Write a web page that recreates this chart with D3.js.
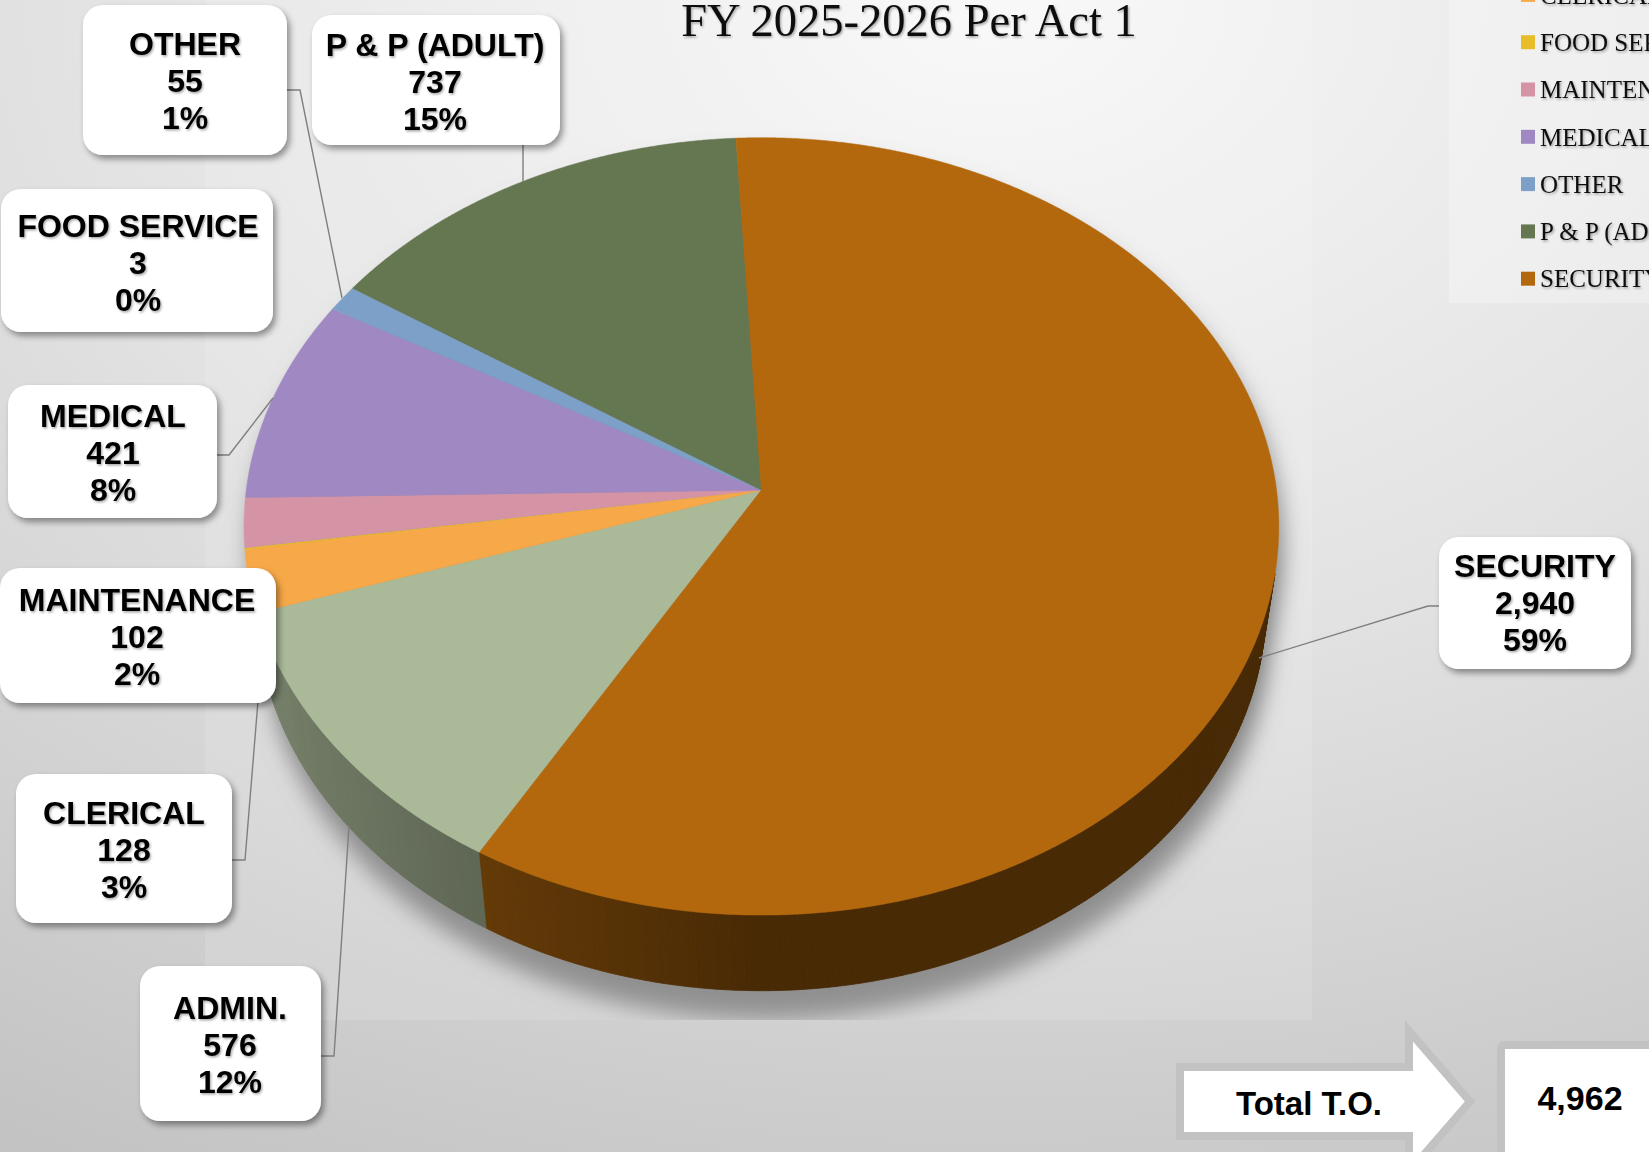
<!DOCTYPE html>
<html><head><meta charset="utf-8">
<script src="https://cdn.jsdelivr.net/npm/d3@7"></script>
<style>html,body{margin:0;padding:0;overflow:hidden;background:#ddd}</style>
</head><body>
<svg id="c" width="1649" height="1152"></svg>
<script>
// ---------- data ----------
const categories = ["ADMIN.","CLERICAL","FOOD SERVICE","MAINTENANCE","MEDICAL","OTHER","P & P (ADULT)","SECURITY"];
const values = [576,128,3,102,421,55,737,2940];
const colors = ["#aab998","#f7a848","#e8bd2a","#d594a6","#a088c2","#7da0c8","#657750","#b4680d"];
const titleText = "FY 2025-2026 Per Act 1";
const totalLabel = "Total T.O.";

// ---------- layout (not data) ----------
const W = 1649, H = 1152;
const firstSliceDeg = 210.2;
const CX = 761.4, CY = 490.1, F = 3661, D = 7.107, SE = 0.748, CE = 0.664, TH = 0.2368;
const labelLayout = {
  "ADMIN.":        {box:[140,966,181,155], tx:230, by:1019, leader:[[321,1056],[334,1056],[349,826]]},
  "CLERICAL":      {box:[16,774,216,149],  tx:124, by:824,  leader:[[232,860],[245,860],[263,640]]},
  "FOOD SERVICE":  {box:[1,189,272,143],   tx:138, by:237,  leader:null},
  "MAINTENANCE":   {box:[0,568,276,135],   tx:137, by:611,  leader:null},
  "MEDICAL":       {box:[8,385,209,133],   tx:113, by:427,  leader:[[217,455],[229,455],[273,398]]},
  "OTHER":         {box:[83,5,204,150],    tx:185, by:55,   leader:[[287,90],[300,90],[342,298]]},
  "P & P (ADULT)": {box:[312,15,248,130],  tx:435, by:56,   leader:[[523,145],[523,182]]},
  "SECURITY":      {box:[1439,537,192,132],tx:1535,by:577,  leader:[[1439,606],[1428,606],[1259,658]]}
};

const svg = d3.select("#c");
const defs = svg.append("defs");

// background gradient
const bg = defs.append("radialGradient").attr("id","bg").attr("cx","0.6").attr("cy","0").attr("r","1.15");
bg.append("stop").attr("offset","0").attr("stop-color","#f8f8f8");
bg.append("stop").attr("offset","0.5").attr("stop-color","#e2e2e2");
bg.append("stop").attr("offset","1").attr("stop-color","#c3c3c3");
svg.append("rect").attr("width",W).attr("height",H).attr("fill","url(#bg)");

// filters
const fBox = defs.append("filter").attr("id","boxsh").attr("x","-20%").attr("y","-20%").attr("width","140%").attr("height","140%");
fBox.append("feDropShadow").attr("dx",3).attr("dy",4).attr("stdDeviation",3).attr("flood-color","#000").attr("flood-opacity",0.4);
const fTxt = defs.append("filter").attr("id","txtsh").attr("x","-10%").attr("y","-20%").attr("width","120%").attr("height","150%");
fTxt.append("feDropShadow").attr("dx",1.2).attr("dy",1.5).attr("stdDeviation",1).attr("flood-color","#000").attr("flood-opacity",0.35);
const fBlur = defs.append("filter").attr("id","blur").attr("x","-20%").attr("y","-20%").attr("width","140%").attr("height","140%");
fBlur.append("feGaussianBlur").attr("stdDeviation",11);
defs.append("clipPath").attr("id","plotclip").append("rect").attr("x",205).attr("y",0).attr("width",1107).attr("height",1020);

// plot area subtle highlight
svg.append("rect").attr("x",205).attr("y",0).attr("width",1107).attr("height",1020).attr("fill","#fff").attr("opacity",0.12);

// projection of 3D pie
function proj(phi, r, hh) {
  const x3 = r*Math.sin(phi), z3 = r*Math.cos(phi);
  const up = z3*SE - hh*CE;
  const depth = D + z3*CE + hh*SE;
  return [CX + F*x3/depth, CY - F*up/depth];
}
function rim(a0, a1, hh) {
  const n = Math.max(2, Math.ceil(Math.abs(a1-a0)/0.004));
  return d3.range(n+1).map(i => proj(a0 + (a1-a0)*i/n, 1, hh));
}
const line = d3.line();

const start = firstSliceDeg*Math.PI/180;
const pie = d3.pie().sort(null).value(d=>d).startAngle(start).endAngle(start+2*Math.PI);
const arcs = pie(values);

// shadow
const shG = svg.append("g").attr("clip-path","url(#plotclip)");
shG.append("g").attr("filter","url(#blur)").attr("transform","translate(5,18)")
  .selectAll("path").data([0, TH*0.6, TH*1.15]).join("path")
  .attr("d", hh => line(rim(0, 2*Math.PI, hh)) + "Z")
  .attr("fill","#7a7a7a").attr("opacity",0.75);

// side walls
const phiS = Math.acos(-1/(D*CE));
const visRanges = [[phiS, 2*Math.PI-phiS],[phiS+2*Math.PI, 4*Math.PI-phiS]];
const sideG = svg.append("g");
const step = Math.PI/360;
arcs.forEach((a,i) => {
  visRanges.forEach(([v0,v1]) => {
    const s0 = Math.max(a.startAngle, v0), s1 = Math.min(a.endAngle, v1);
    if (s1 <= s0) return;
    const n = Math.max(1, Math.ceil((s1-s0)/step));
    for (let k=0;k<n;k++){
      const t0 = s0 + (s1-s0)*k/n, t1 = s0 + (s1-s0)*(k+1)/n, tm=(t0+t1)/2;
      const f = 0.40 + 0.31*Math.max(0, -Math.sin(tm));
      const c = d3.rgb(colors[i]);
      const col = d3.rgb(c.r*f, c.g*f, c.b*f).formatHex();
      const pts = [proj(t0,1,0),proj(t1,1,0),proj(t1,1,TH),proj(t0,1,TH)];
      sideG.append("path").attr("d", line(pts)+"Z").attr("fill",col).attr("stroke",col).attr("stroke-width",0.8);
    }
  });
});

// top faces
svg.append("g").selectAll("path").data(arcs).join("path")
  .attr("d", a => line([proj(0,0,0)].concat(rim(a.startAngle, a.endAngle, 0))) + "Z")
  .attr("fill", (a,i) => colors[i])
  .attr("stroke", (a,i) => colors[i]).attr("stroke-width",0.5);

// leader lines
const total = d3.sum(values);
const pct = d3.format(".0%"), num = d3.format(",");
const lg = svg.append("g");
categories.forEach(c => {
  const L = labelLayout[c];
  if (L.leader) lg.append("path").attr("d", line(L.leader)).attr("fill","none").attr("stroke","#7f7f7f").attr("stroke-width",1.4);
});

// data labels
const labG = svg.append("g");
categories.forEach((c,i) => {
  const L = labelLayout[c];
  const g = labG.append("g");
  g.append("rect").attr("x",L.box[0]).attr("y",L.box[1]).attr("width",L.box[2]).attr("height",L.box[3])
    .attr("rx",20).attr("fill","#fff").attr("filter","url(#boxsh)");
  const t = g.append("text").attr("text-anchor","middle").attr("font-family","'Liberation Sans', Arial, sans-serif")
    .attr("font-weight","bold").attr("font-size",32).attr("fill","#000").attr("filter","url(#txtsh)");
  [c, num(values[i]), pct(values[i]/total)].forEach((s,k) => {
    t.append("tspan").attr("x",L.tx).attr("y",L.by + k*37).text(s);
  });
});

// title
svg.append("text").attr("x",909).attr("y",36).attr("text-anchor","middle")
  .attr("font-family","'Liberation Serif','DejaVu Serif',serif").attr("font-size",46.5).attr("fill","#111")
  .attr("filter","url(#txtsh)").text(titleText);

// legend
svg.append("rect").attr("x",1449).attr("y",-10).attr("width",220).attr("height",313).attr("fill","#fff").attr("opacity",0.28);
const ly = d3.scaleLinear().domain([0, categories.length-1]).range([-52.4, 278.7]);
const leg = svg.append("g");
categories.forEach((c,i) => {
  leg.append("rect").attr("x",1521).attr("y",ly(i)-7).attr("width",14).attr("height",14).attr("fill",colors[i]);
  leg.append("text").attr("x",1540).attr("y",ly(i)).attr("dy","0.35em")
    .attr("font-family","'Liberation Serif','DejaVu Serif',serif").attr("font-size",25).attr("fill","#111")
    .attr("filter","url(#txtsh)").text(c);
});

// Total arrow + value box
const arrowPts = [[1180,1067],[1409,1067],[1409,1031],[1470,1101.5],[1409,1172],[1409,1136],[1180,1136]];
svg.append("path").attr("d", line(arrowPts)+"Z").attr("fill","#fff").attr("stroke","#c2c2c2").attr("stroke-width",8).attr("stroke-linejoin","miter");
svg.append("text").attr("x",1309).attr("y",1115).attr("text-anchor","middle")
  .attr("font-family","'Liberation Sans', Arial, sans-serif").attr("font-weight","bold").attr("font-size",33)
  .attr("fill","#000").text(totalLabel);
svg.append("rect").attr("x",1501).attr("y",1045).attr("width",200).attr("height",150).attr("rx",4)
  .attr("fill","#fff").attr("stroke","#c2c2c2").attr("stroke-width",8);
svg.append("text").attr("x",1580).attr("y",1110).attr("text-anchor","middle")
  .attr("font-family","'Liberation Sans', Arial, sans-serif").attr("font-weight","bold").attr("font-size",34)
  .attr("fill","#000").text(num(total));
</script>
</body></html>
